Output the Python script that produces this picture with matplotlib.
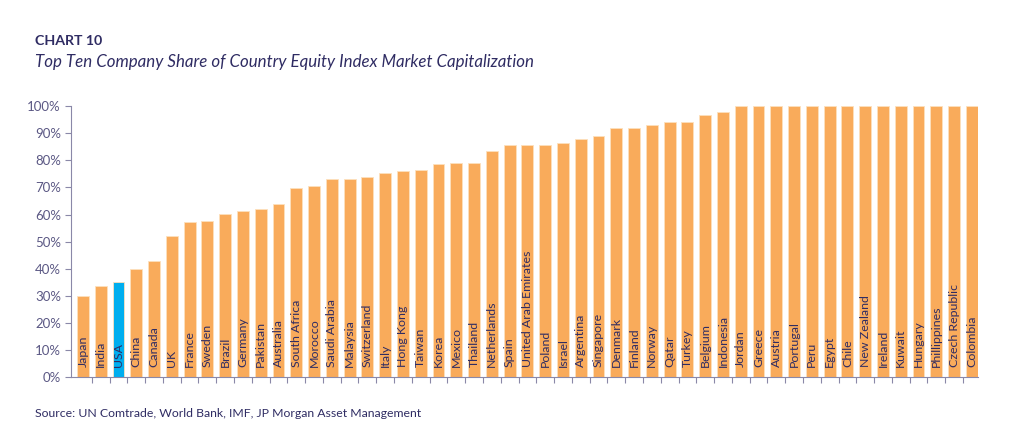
import matplotlib
matplotlib.use("Agg")
import matplotlib.pyplot as plt
import numpy as np

countries = ["Japan", "India", "USA", "China", "Canada", "UK", "France", "Sweden", "Brazil",
             "Germany", "Pakistan", "Australia", "South Africa", "Morocco", "Saudi Arabia",
             "Malaysia", "Switzerland", "Italy", "Hong Kong", "Taiwan", "Korea", "Mexico",
             "Thailand", "Netherlands", "Spain", "United Arab Emirates", "Poland", "Israel",
             "Argentina", "Singapore", "Denmark", "Finland", "Norway", "Qatar", "Turkey",
             "Belgium", "Indonesia", "Jordan", "Greece", "Austria", "Portugal", "Peru", "Egypt",
             "Chile", "New Zealand", "Ireland", "Kuwait", "Hungary", "Phillippines",
             "Czech Republic", "Colombia"]
shares = [29.8, 33.8, 35.1, 40.0, 42.9, 52.0, 57.1, 57.8, 60.1,
          61.3, 61.9, 63.8, 69.9, 70.4, 73.3,
          73.3, 73.9, 75.4, 75.9, 76.6, 78.5, 79.2,
          79.2, 83.3, 85.7, 85.7, 85.7, 86.5,
          87.9, 88.9, 92.1, 92.1, 93.2, 94.3, 94.3,
          96.8, 97.9, 100, 100, 100, 100, 100, 100,
          100, 100, 100, 100, 100, 100,
          100, 100]
highlight = "USA"
yticks = [0, 10, 20, 30, 40, 50, 60, 70, 80, 90, 100]

navy = "#2f2c63"
tickc = "#5b5884"
orange = "#f9ab5b"
blue = "#00aeef"

plt.rcParams['font.family'] = ['Lato', 'DejaVu Sans']

fig = plt.figure(figsize=(10.24, 4.48), dpi=100)
ax = fig.add_axes([0.069, 0.158, 0.886, 0.605])

x = np.arange(len(countries))
colors = [blue if c == highlight else orange for c in countries]
ax.bar(x, shares, width=0.67, color=colors, edgecolor="#fde0bd", linewidth=0.6)

for xi, c in zip(x, countries):
    ax.text(xi, 3.6, c, rotation=90, ha="center", va="bottom", fontsize=8.9, color=navy)

ax.set_xlim(-0.69, len(countries) - 0.66)
ax.set_ylim(0, 100)
ax.set_yticks(yticks)
ax.set_yticklabels([f"{v}%" for v in yticks], fontsize=9.5, color=tickc)
ax.set_xticks(np.arange(1, len(countries)) - 0.5)
ax.set_xticklabels([])
ax.tick_params(axis="y", length=4, color="#8a88a8", width=0.8, pad=3)
ax.tick_params(axis="x", length=4, color="#8a88a8", width=0.8)
for s in ["top", "right"]:
    ax.spines[s].set_visible(False)
for s in ["left", "bottom"]:
    ax.spines[s].set_color("#8a88a8")
    ax.spines[s].set_linewidth(0.8)

fig.text(0.034, 0.908, "CHART 10", fontsize=10.2, fontweight="bold", color=navy, va="center")
fig.text(0.034, 0.862, "Top Ten Company Share of Country Equity Index Market Capitalization",
         fontsize=12.2, style="italic", color=navy, va="center")
fig.text(0.034, 0.077, "Source: UN Comtrade, World Bank, IMF, JP Morgan Asset Management",
         fontsize=8.8, color=navy, va="center")

fig.savefig("out.png", dpi=100)
